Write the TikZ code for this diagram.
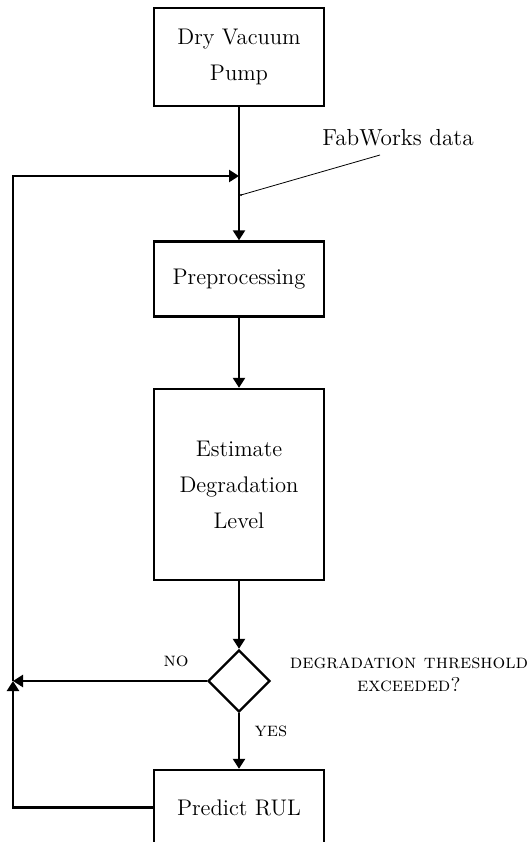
\documentclass[tikz,border=0pt]{standalone}
\usetikzlibrary{arrows.meta,shapes.geometric}
\begin{document}
\begin{tikzpicture}[
    x=0.5pt, y=-0.5pt,
    block/.style={
      rectangle,
      draw,
      line width=1.2pt,
      minimum width=85pt,
      align=center,
      font=\fontsize{11.3}{18}\selectfont
    },
    decision/.style={
      diamond,
      draw,
      line width=1.2pt,
      minimum width=31pt,
      minimum height=31pt,
      inner sep=0pt
    },
    flow/.style={line width=1.2pt, -{Triangle[length=5pt,width=6pt]}},
    tag/.style={font=\fontsize{10}{11.5}\selectfont\scshape, align=center}
  ]

    \clip (0, 0) rectangle (529, 842);

    \node[block, minimum height=49pt] (pump) at (239, 57) {Dry Vacuum\\Pump};
    \node[block, minimum height=37.5pt] (prep) at (239, 279) {Preprocessing};
    \node[block, minimum height=95.5pt] (est) at (239, 484.5) {Estimate\\Degradation\\Level};
    \node[decision] (thr) at (239, 681) {};
    \node[block, minimum height=37.5pt] (rul) at (239, 807.5) {Predict RUL};

    \node[tag] (no) at (176, 661) {no};
    \node[tag] (yes) at (271, 731) {yes};
    \node[tag] (thrlabel) at (409, 675) {degradation threshold\\exceeded?};
    \node[font=\fontsize{11.6}{14}\selectfont] (fab) at (398, 138) {FabWorks data};

    \coordinate (loop) at (13, 681);
    \coordinate (join) at (239, 176);
    \coordinate (tap) at (241, 195);
    \coordinate (fabend) at (380, 155);

    \draw[flow] (pump) -- (prep);
    \draw[flow] (prep) -- (est);
    \draw[flow] (est) -- (thr);
    \draw[flow] (thr) -- (rul);

    \draw[flow] (thr.west) -- (loop);
    \draw[flow] (rul.west) -| (loop);
    \draw[flow] (loop) |- (join);

    \draw[thin] (tap) -- (fabend);
    \fill (tap) circle (1.2);

  \end{tikzpicture}
\end{document}
